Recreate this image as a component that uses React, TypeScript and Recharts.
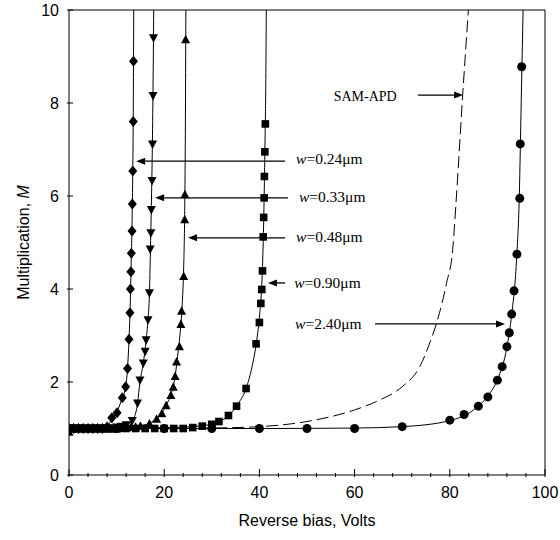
import { ComposedChart, Line, Scatter, XAxis, YAxis, ReferenceLine, ReferenceDot } from "recharts";

// axis ticks
const xTicks = [0, 4, 8, 12, 16, 20, 24, 28, 32, 36, 40, 44, 48, 52, 56, 60, 64, 68, 72, 76, 80, 84, 88, 92, 96, 100];
const yTicks = [0, 2, 4, 6, 8, 10];

// w = 0.24 um (diamonds)
const d024V = [0, 1, 2, 3, 4, 5, 6, 7, 8, 9.0, 10.1, 11.2, 11.9, 12.3, 12.6, 12.8, 12.9, 13.0, 13.1, 13.25, 13.3, 13.4, 13.5, 13.55];
const d024M = [1, 1, 1, 1, 1, 1, 1, 1, 1.03, 1.23, 1.34, 1.66, 1.9, 2.29, 2.92, 3.49, 4.0, 4.37, 4.77, 5.25, 5.83, 6.54, 7.6, 8.9];
const f024V = [0, 6, 8, 9, 10, 11, 11.9, 12.3, 12.6, 12.85, 13.05, 13.3, 13.5, 13.6];
const f024M = [1, 1.01, 1.05, 1.2, 1.35, 1.6, 1.9, 2.3, 2.9, 3.6, 4.5, 5.8, 7.8, 10];

// w = 0.33 um (down triangles)
const d033V = [0, 1, 2, 3, 4, 5, 6, 7, 8, 9, 10, 11, 12, 13.3, 14.4, 14.9, 15.6, 16.0, 16.2, 16.6, 16.9, 17.05, 17.2, 17.3, 17.45, 17.55, 17.65, 17.75];
const d033M = [1, 1, 1, 1, 1, 1, 1, 1, 1, 1, 1.02, 1.04, 1.07, 1.16, 1.54, 2.03, 2.4, 2.65, 2.9, 3.33, 3.91, 4.85, 5.2, 5.7, 6.32, 7.11, 8.15, 9.39];
const f033V = [0, 8, 11, 12.5, 13.5, 14.4, 14.9, 15.6, 16.2, 16.6, 16.9, 17.1, 17.3, 17.5, 17.65, 17.8];
const f033M = [1, 1.01, 1.05, 1.1, 1.2, 1.54, 2.0, 2.4, 2.9, 3.35, 3.9, 4.8, 5.8, 7.0, 8.3, 10];

// w = 0.48 um (up triangles)
const d048V = [0, 1, 2, 3, 4, 5, 6, 7, 8, 9, 10, 11, 12, 13, 14, 15, 16.9, 18.4, 19.5, 20.4, 21.4, 21.9, 22.3, 22.6, 23.2, 23.5, 23.65, 24.1, 24.3, 24.35, 24.5];
const d048M = [0.93, 1, 1, 1, 1, 1, 1, 1, 1, 1, 1, 1.01, 1.02, 1.03, 1.04, 1.06, 1.11, 1.21, 1.33, 1.5, 1.72, 1.9, 2.13, 2.44, 2.77, 3.25, 3.53, 4.28, 5.5, 6.04, 9.37];
const f048V = [0, 10, 14, 16, 17, 18.4, 19.5, 20.4, 21.4, 22.0, 22.4, 22.8, 23.3, 23.8, 24.1, 24.3, 24.45, 24.55];
const f048M = [1, 1.01, 1.04, 1.08, 1.12, 1.21, 1.33, 1.5, 1.72, 1.95, 2.2, 2.55, 3.0, 3.7, 4.5, 5.6, 7.5, 10];

// w = 0.90 um (squares)
const d090V = [0, 2, 4, 6, 8, 10, 12, 14, 16, 18, 20, 22, 24, 26, 28, 30, 31.5, 33.5, 35.2, 37.2, 39.3, 40.0, 40.3, 40.5, 40.65, 40.8, 40.9, 41.0, 41.05, 41.15, 41.25];
const d090M = [1, 1, 1, 1, 1, 1, 1, 1, 1, 1, 1, 1, 1, 1.02, 1.05, 1.09, 1.15, 1.28, 1.48, 1.86, 2.82, 3.28, 3.69, 3.99, 4.39, 5.12, 5.54, 5.96, 6.42, 6.95, 7.55];
const f090V = [0, 20, 28, 31, 33.5, 35.3, 37.2, 38.5, 39.3, 40, 40.5, 40.8, 41.0, 41.2, 41.35, 41.45];
const f090M = [1, 1.02, 1.06, 1.13, 1.27, 1.5, 1.86, 2.35, 2.8, 3.4, 4.1, 5.0, 6.0, 7.3, 8.5, 10];

// w = 2.40 um (circles)
const d240V = [0, 10, 20, 30, 40, 50, 60, 70, 80, 83, 86, 88, 90, 91, 92, 92.5, 93, 93.5, 94.1, 94.7, 94.8, 95.1];
const d240M = [1, 1, 1, 1, 1, 1, 1, 1.04, 1.18, 1.3, 1.48, 1.68, 2.04, 2.33, 2.76, 3.06, 3.46, 3.96, 4.75, 5.95, 7.12, 8.78];
const f240V = [0, 40, 60, 70, 80, 85, 88, 90, 92, 93, 94, 94.6, 95, 95.4];
const f240M = [1, 1, 1.01, 1.04, 1.17, 1.4, 1.7, 2.05, 2.75, 3.45, 4.6, 6, 8, 10];

// SAM-APD (dashed)
const samV = [20, 30, 40, 50, 60, 65, 70, 73.7, 76, 77.2, 79.3, 80.6, 81.4, 82.6, 83.9];
const samM = [1.0, 1.01, 1.04, 1.15, 1.4, 1.6, 1.9, 2.33, 2.9, 3.26, 4.12, 4.84, 6.0, 8.0, 10];

const pts = (vs: number[], ms: number[]) => vs.map((v, i) => ({ v, m: ms[i] }));

// annotation labels and arrows
const notes = [
  { text: "SAM-APD", w: false, tx: 55.6, ty: 8.05, from: [73.3, 8.17], to: [82.8, 8.17] },
  { text: "=0.24\u03bcm", w: true, tx: 47.7, ty: 6.68, from: [45.4, 6.75], to: [14.1, 6.75] },
  { text: "=0.33\u03bcm", w: true, tx: 48.3, ty: 5.87, from: [46.0, 5.96], to: [18.1, 5.96] },
  { text: "=0.48\u03bcm", w: true, tx: 47.7, ty: 5.01, from: [45.4, 5.1], to: [25.0, 5.1] },
  { text: "=0.90\u03bcm", w: true, tx: 47.3, ty: 4.02, from: [45.4, 4.13], to: [41.8, 4.13] },
  { text: "=2.40\u03bcm", w: true, tx: 47.5, ty: 3.14, from: [64.3, 3.25], to: [91.6, 3.25] },
];

const sans = "'Liberation Sans', Arial, sans-serif";
const serif = "'Liberation Serif', 'Times New Roman', serif";

const XTick = (props: any) => {
  const { x, y, payload } = props;
  const major = payload.value % 20 === 0;
  return (
    <g>
      <line x1={x} x2={x} y1={y} y2={y - (major ? 8 : 4)} stroke="#000" />
      {major && (
        <text x={x} y={y + 21} textAnchor="middle" fontSize={16} fontFamily={sans} fill="#000">
          {payload.value}
        </text>
      )}
    </g>
  );
};

const YTick = (props: any) => {
  const { x, y, payload } = props;
  return (
    <g>
      <line x1={x} x2={x + 6} y1={y} y2={y} stroke="#000" />
      <text x={x - 8} y={y + 6} textAnchor="end" fontSize={16} fontFamily={sans} fill="#000">
        {payload.value}
      </text>
    </g>
  );
};

const Diamond = (p: any) => (
  <polygon points={`${p.cx},${p.cy - 5.5} ${p.cx + 4.5},${p.cy} ${p.cx},${p.cy + 5.5} ${p.cx - 4.5},${p.cy}`} fill="#000" />
);
const TriDown = (p: any) => (
  <polygon points={`${p.cx - 4.5},${p.cy - 4} ${p.cx + 4.5},${p.cy - 4} ${p.cx},${p.cy + 4.5}`} fill="#000" />
);
const TriUp = (p: any) => (
  <polygon points={`${p.cx - 4.5},${p.cy + 4} ${p.cx + 4.5},${p.cy + 4} ${p.cx},${p.cy - 4.5}`} fill="#000" />
);
const Square = (p: any) => <rect x={p.cx - 3.8} y={p.cy - 3.8} width={7.6} height={7.6} fill="#000" />;
const Circle = (p: any) => <circle cx={p.cx} cy={p.cy} r={4.5} fill="#000" />;

const Arrow = (p: any) => {
  const { x1, y1, x2, y2 } = p;
  const dir = Math.sign(x2 - x1);
  const L = 9;
  const W = 3.5;
  return (
    <g>
      <line x1={x1} y1={y1} x2={x2 - dir * L} y2={y2} stroke="#000" strokeWidth={1.3} />
      <polygon points={`${x2},${y2} ${x2 - dir * L},${y2 - W} ${x2 - dir * L},${y2 + W}`} fill="#000" />
    </g>
  );
};

export default function App() {
  return (
    <div style={{ width: 560, height: 540, background: "#fff" }}>
      <style>{"html, body { margin: 0; padding: 0; overflow: hidden; }"}</style>
      <ComposedChart width={560} height={540} margin={{ top: 10, right: 15, bottom: 0, left: 8 }}>
        <XAxis
          type="number"
          dataKey="v"
          domain={[0, 100]}
          ticks={xTicks}
          interval={0}
          tickSize={0}
          tickLine={false}
          tick={<XTick />}
          height={65}
          stroke="#000"
          allowDataOverflow
          label={{
            content: (p: any) => {
              const vb = p.viewBox;
              return (
                <text x={vb.x + vb.width / 2} y={vb.y + 51} textAnchor="middle" fontSize={16} fontFamily={sans} fill="#000">
                  Reverse bias, Volts
                </text>
              );
            },
          }}
        />
        <YAxis
          type="number"
          dataKey="m"
          domain={[0, 10]}
          ticks={yTicks}
          interval={0}
          tickSize={0}
          tickLine={false}
          tick={<YTick />}
          width={61}
          stroke="#000"
          allowDataOverflow
          label={{
            content: (p: any) => {
              const vb = p.viewBox;
              const cx = vb.x + 21;
              const cy = vb.y + vb.height / 2;
              return (
                <text x={cx} y={cy} transform={`rotate(-90 ${cx} ${cy})`} textAnchor="middle" fontSize={16} fontFamily={sans} fill="#000">
                  Multiplication, <tspan fontStyle="italic">M</tspan>
                </text>
              );
            },
          }}
        />
        <ReferenceLine y={10} stroke="#000" />
        <ReferenceLine x={100} stroke="#000" />

        <Line data={pts(f024V, f024M)} dataKey="m" type="monotone" stroke="#000" strokeWidth={1} dot={false} isAnimationActive={false} />
        <Line data={pts(f033V, f033M)} dataKey="m" type="monotone" stroke="#000" strokeWidth={1} dot={false} isAnimationActive={false} />
        <Line data={pts(f048V, f048M)} dataKey="m" type="monotone" stroke="#000" strokeWidth={1} dot={false} isAnimationActive={false} />
        <Line data={pts(f090V, f090M)} dataKey="m" type="monotone" stroke="#000" strokeWidth={1} dot={false} isAnimationActive={false} />
        <Line data={pts(f240V, f240M)} dataKey="m" type="monotone" stroke="#000" strokeWidth={1} dot={false} isAnimationActive={false} />
        <Line data={pts(samV, samM)} dataKey="m" type="monotone" stroke="#000" strokeWidth={1} strokeDasharray="12 5" dot={false} isAnimationActive={false} />

        <Scatter data={pts(d024V, d024M)} dataKey="m" shape={Diamond} isAnimationActive={false} />
        <Scatter data={pts(d033V, d033M)} dataKey="m" shape={TriDown} isAnimationActive={false} />
        <Scatter data={pts(d048V, d048M)} dataKey="m" shape={TriUp} isAnimationActive={false} />
        <Scatter data={pts(d090V, d090M)} dataKey="m" shape={Square} isAnimationActive={false} />
        <Scatter data={pts(d240V, d240M)} dataKey="m" shape={Circle} isAnimationActive={false} />

        {notes.map((n, i) => (
          <ReferenceLine key={"a" + i} segment={[{ x: n.from[0], y: n.from[1] }, { x: n.to[0], y: n.to[1] }]} shape={Arrow} />
        ))}
        {notes.map((n, i) => (
          <ReferenceDot
            key={"t" + i}
            x={n.tx}
            y={n.ty}
            r={0}
            shape={(p: any) => (
              <text x={p.cx} y={p.cy} fontSize={n.w ? 15.5 : 14} fontFamily={serif} fill="#000">
                {n.w && <tspan fontStyle="italic">w</tspan>}
                {n.text}
              </text>
            )}
          />
        ))}
      </ComposedChart>
    </div>
  );
}
